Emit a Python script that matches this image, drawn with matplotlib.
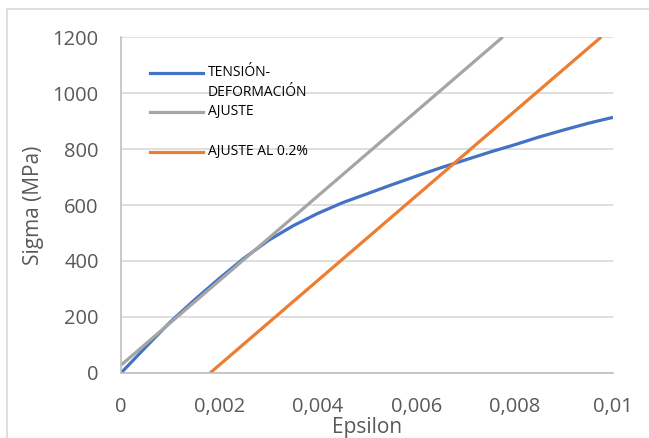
"""Curva tension-deformacion con ajuste lineal y offset 0.2%."""
import matplotlib
matplotlib.use("Agg")
import matplotlib.pyplot as plt
from matplotlib.patches import Rectangle
from matplotlib.ticker import FuncFormatter

# curva medida
eps = [0, 0.0005, 0.001, 0.0015, 0.002, 0.0025, 0.003, 0.0035, 0.004,
       0.0045, 0.005, 0.0055, 0.006, 0.0065, 0.007, 0.0075, 0.008,
       0.0085, 0.009, 0.0095, 0.01]
sigma = [0, 92, 182, 262, 338, 410, 474, 526, 570,
         608, 640, 672, 703, 733, 761, 789, 815,
         843, 868, 892, 913]

# ajuste lineal
fit_eps = [0, 0.00776]
fit_sigma = [28, 1200]

# ajuste desplazado 0.2%
off_eps = [0.00181, 0.00976]
off_sigma = [0, 1200]

x_ticks = [0, 0.002, 0.004, 0.006, 0.008, 0.01]
y_ticks = [0, 200, 400, 600, 800, 1000, 1200]

BLUE = "#4472C4"
GRAY = "#A5A5A5"
ORANGE = "#ED7D31"
TXT = "#595959"

plt.rcParams["font.family"] = ["Open Sans", "DejaVu Sans"]

fig = plt.figure(figsize=(6.49, 4.38), dpi=100)
fig.patches.append(Rectangle((7 / 649, -0.2), 1.2, 1.2 - 9 / 438,
                             transform=fig.transFigure, fill=False,
                             edgecolor="#d9d9d9", linewidth=1.2))
ax = fig.add_axes([121 / 649, 1 - 373 / 438, 492 / 649, 336 / 438])

ax.plot(eps, sigma, color=BLUE, lw=2.3, solid_capstyle="butt")
ax.plot(fit_eps, fit_sigma, color=GRAY, lw=2.3, solid_capstyle="butt")
ax.plot(off_eps, off_sigma, color=ORANGE, lw=2.3, solid_capstyle="butt")

ax.set_xlim(0, 0.01)
ax.set_ylim(0, 1200)
ax.set_xticks(x_ticks)
ax.set_yticks(y_ticks)
ax.xaxis.set_major_formatter(FuncFormatter(
    lambda v, p: "0" if v == 0 else ("%g" % round(v, 4)).replace(".", ",")))
ax.tick_params(length=0, labelsize=14.5, labelcolor=TXT)
ax.tick_params(axis="y", pad=16)
ax.tick_params(axis="x", pad=17)
ax.grid(axis="y", color="#d9d9d9", lw=1.2)
ax.set_axisbelow(True)
for s in ["top", "right"]:
    ax.spines[s].set_visible(False)
for s in ["left", "bottom"]:
    ax.spines[s].set_color("#bfbfbf")
    ax.spines[s].set_linewidth(1.2)

ax.set_xlabel("Epsilon", fontsize=15, color=TXT, labelpad=0)
ax.set_ylabel("Sigma (MPa)", fontsize=15, color=TXT, labelpad=6)

# leyenda
legend_items = [(BLUE, ["TENSIÓN-", "DEFORMACIÓN"], 73),
                (GRAY, ["AJUSTE"], 112),
                (ORANGE, ["AJUSTE AL 0.2%"], 152)]
for color, lines, y in legend_items:
    fig.add_artist(plt.Line2D([150 / 649, 203 / 649], [1 - y / 438] * 2,
                              color=color, lw=2.3, transform=fig.transFigure))
    for i, t in enumerate(lines):
        fig.text(208 / 649, 1 - (y + 20 * i) / 438, t, fontsize=10,
                 color="black", va="center", ha="left")

fig.savefig("out.png", dpi=100)
